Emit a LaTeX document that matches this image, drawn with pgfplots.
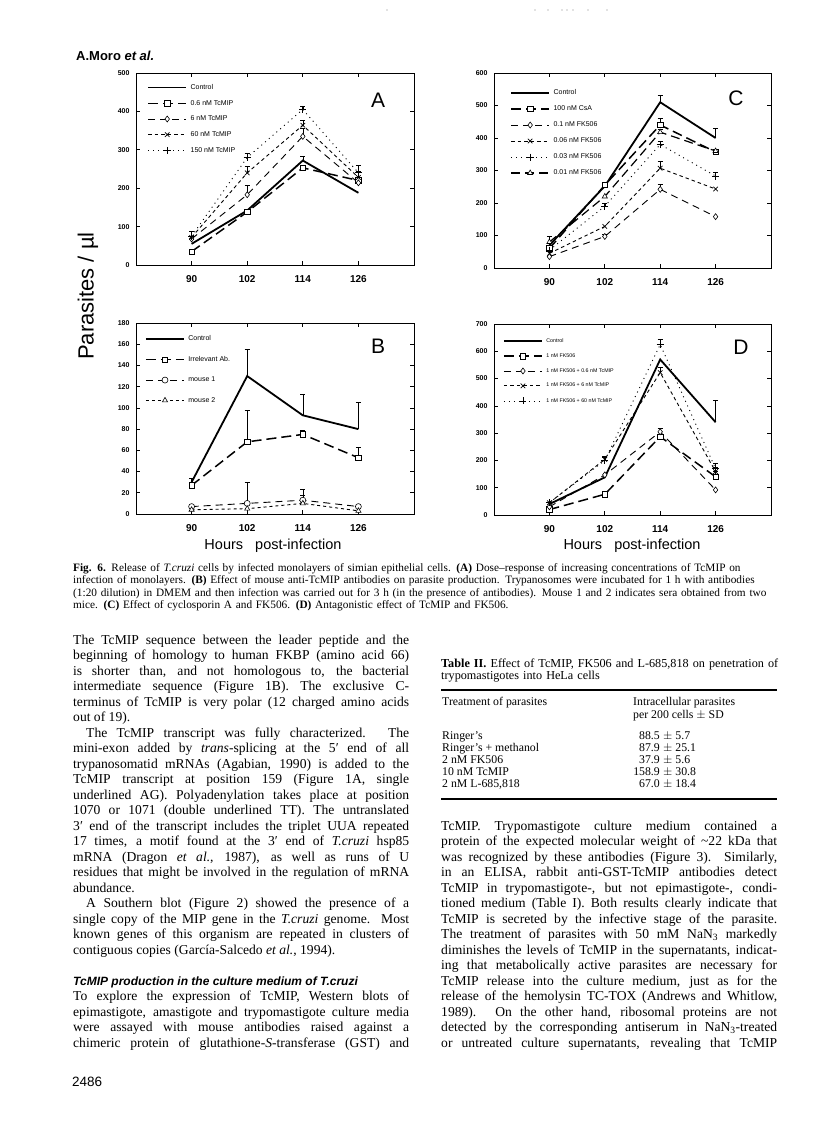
\documentclass[border=0pt]{standalone}
\usepackage{fontspec}
\setmainfont{Liberation Serif}
\setsansfont{Liberation Sans}
\usepackage{pgfplots}
\pgfplotsset{compat=1.18}
\pgfplotsset{
  panel/.style={
    scale only axis, xmin=78, xmax=138, ymin=0,
    xtick={90,102,114,126},
    tick align=inside, major tick length=4pt,
    axis line style={line width=0.8pt},
    every tick/.style={line width=0.7pt, black},
    xticklabel style={font=\fontsize{10}{12}\selectfont\sffamily\bfseries, yshift=-7pt},
    yticklabel style={font=\fontsize{7}{8}\selectfont\sffamily\bfseries, xshift=-3pt},
    /pgf/number format/assume math mode=true,
    legend cell align=left,
    legend image code/.code={\draw[mark repeat=2,mark phase=2,##1] plot coordinates {(0pt,0pt) (19pt,0pt) (38pt,0pt)};},
    legend style={draw=none, fill=none, inner sep=0pt, anchor=north west, column sep=3pt,
      nodes={inner sep=0.5pt}},
  },
  ctrl/.style={black, line width=1.8pt, no markers},
  sq/.style={black, line width=1.5pt, dash pattern=on 10pt off 5pt, mark=square*, mark size=2.7pt, mark options={solid, fill=white, line width=0.7pt}},
  dia/.style={black, line width=0.9pt, dash pattern=on 7pt off 5pt, mark=diamond*, mark size=3pt, mark options={solid, fill=white, line width=0.6pt}},
  crs/.style={black, line width=0.9pt, dash pattern=on 3.5pt off 3pt, mark=x, mark size=3.2pt, mark options={solid, line width=0.7pt}},
  pls/.style={black, line width=0.9pt, dash pattern=on 1pt off 4pt, mark=+, mark size=3.5pt, mark options={solid, line width=0.7pt}},
  tri/.style={black, line width=1.2pt, dash pattern=on 9pt off 5pt, mark=triangle*, mark size=3pt, mark options={solid, fill=white, line width=0.6pt}},
  trid/.style={black, line width=0.9pt, dash pattern=on 3pt off 3pt, mark=triangle*, mark size=3pt, mark options={solid, fill=white, line width=0.6pt}},
  circ/.style={black, line width=0.9pt, dash pattern=on 7pt off 5pt, mark=*, mark size=3pt, mark options={solid, fill=white, line width=0.6pt}},
  errs/.style={forget plot, draw=none, no markers,
    error bars/.cd, y dir=plus, y explicit,
    error bar style={draw=black, solid, line width=0.6pt},
    error mark options={draw=black, solid, rotate=90, mark size=2.5pt, line width=0.6pt}},
}
\begin{document}
\begin{tikzpicture}[x=1pt,y=1pt]
\path[use as bounding box] (0,0) rectangle (816,-1121);

% scan dots
\foreach \xx in {387,535,548,562,567,573,588,607}{\fill[gray] (\xx,-10) circle (0.6);}

% header
\node[anchor=base west, inner sep=0, font=\fontsize{13}{13}\selectfont\sffamily\bfseries] at (76,-61) {A.Moro \textit{et al.}};

% ---------------- Panel A ----------------
\begin{axis}[panel, at={(136pt,-265pt)}, anchor=south west, width=278pt, height=192pt,
  ymax=500, ytick={0,100,...,500},
  legend style={at={(0.04,0.945)}, font=\fontsize{7}{8}\selectfont\sffamily, row sep=8.3pt}]
\addplot[ctrl] table[x=x,y=y]{
x y
90 55
102 142
114 272
126 188
};
\addlegendentry{Control}
\addplot[sq] table[x=x,y=y]{
x y
90 35
102 138
114 253
126 220
};
\addlegendentry{0.6 nM TcMIP}
\addplot[dia] table[x=x,y=y]{
x y
90 68
102 183
114 335
126 214
};
\addlegendentry{6 nM TcMIP}
\addplot[crs] table[x=x,y=y]{
x y
90 72
102 240
114 364
126 228
};
\addlegendentry{60 nM TcMIP}
\addplot[pls] table[x=x,y=y]{
x y
90 75
102 280
114 405
126 240
};
\addlegendentry{150 nM TcMIP}
\addplot[errs] table[x=x,y=y,y error=e]{
x y e
114 272 11
102 183 25
114 335 20
90 72 15
102 240 18
114 364 12
126 228 15
90 75 12
102 280 10
114 405 8
126 240 20
};
\end{axis}
\node[font=\fontsize{21}{21}\selectfont\sffamily] at (378,-100) {A};

% ---------------- Panel B ----------------
\begin{axis}[panel, at={(136pt,-514pt)}, anchor=south west, width=278pt, height=191pt,
  ymax=180, ytick={0,20,...,180},
  legend style={at={(0.032,0.937)}, font=\fontsize{7}{8}\selectfont\sffamily, row sep=13pt}]
\addplot[ctrl] table[x=x,y=y]{
x y
90 30
102 130
114 93
126 80
};
\addlegendentry{Control}
\addplot[sq] table[x=x,y=y]{
x y
90 27
102 68
114 75
126 53
};
\addlegendentry{Irrelevant Ab.}
\addplot[circ] table[x=x,y=y]{
x y
90 7
102 10
114 13
126 7
};
\addlegendentry{mouse 1}
\addplot[trid] table[x=x,y=y]{
x y
90 4
102 5
114 10
126 3
};
\addlegendentry{mouse 2}
\addplot[errs] table[x=x,y=y,y error=e]{
x y e
90 30 4
102 130 25
114 93 20
126 80 25
102 68 30
114 75 4
126 53 10
102 10 20
114 13 10
114 10 8
};
\end{axis}
\node[font=\fontsize{21}{21}\selectfont\sffamily] at (378,-346) {B};

% ---------------- Panel C ----------------
\begin{axis}[panel, at={(494pt,-268pt)}, anchor=south west, width=277pt, height=195pt,
  ymax=600, ytick={0,100,...,600},
  legend style={at={(0.058,0.918)}, font=\fontsize{7}{8}\selectfont\sffamily, row sep=8.6pt}]
\addplot[ctrl] table[x=x,y=y]{
x y
90 70
102 252
114 510
126 400
};
\addlegendentry{Control}
\addplot[sq] table[x=x,y=y]{
x y
90 60
102 255
114 440
126 357
};
\addlegendentry{100 nM CsA}
\addplot[dia] table[x=x,y=y]{
x y
90 35
102 97
114 242
126 158
};
\addlegendentry{0.1 nM FK506}
\addplot[crs] table[x=x,y=y]{
x y
90 45
102 128
114 307
126 243
};
\addlegendentry{0.06 nM FK506}
\addplot[pls] table[x=x,y=y]{
x y
90 55
102 190
114 380
126 283
};
\addlegendentry{0.03 nM FK506}
\addplot[tri] table[x=x,y=y]{
x y
90 80
102 220
114 418
126 360
};
\addlegendentry{0.01 nM FK506}
\addplot[errs] table[x=x,y=y,y error=e]{
x y e
114 510 20
126 400 30
90 60 10
114 440 22
126 357 8
102 97 8
114 242 15
114 307 22
102 190 8
114 380 10
126 283 10
90 80 18
114 418 10
};
\end{axis}
\node[font=\fontsize{21}{21}\selectfont\sffamily] at (736,-98) {C};

% ---------------- Panel D ----------------
\begin{axis}[panel, at={(494pt,-515pt)}, anchor=south west, width=277pt, height=191pt,
  ymax=700, ytick={0,100,...,700},
  legend style={at={(0.032,0.927)}, font=\fontsize{5.3}{6}\selectfont\sffamily, row sep=8.6pt}]
\addplot[ctrl] table[x=x,y=y]{
x y
90 40
102 138
114 570
126 340
};
\addlegendentry{Control}
\addplot[sq] table[x=x,y=y]{
x y
90 20
102 76
114 287
126 140
};
\addlegendentry{1 nM FK506}
\addplot[dia] table[x=x,y=y]{
x y
90 30
102 147
114 305
126 92
};
\addlegendentry{1 nM FK506 + 0.6 nM TcMIP}
\addplot[crs] table[x=x,y=y]{
x y
90 45
102 204
114 522
126 159
};
\addlegendentry{1 nM FK506 + 6 nM TcMIP}
\addplot[pls] table[x=x,y=y]{
x y
90 45
102 200
114 625
126 170
};
\addlegendentry{1 nM FK506 + 60 nM TcMIP}
\addplot[errs] table[x=x,y=y,y error=e]{
x y e
126 340 80
126 140 20
114 305 12
102 204 12
114 522 18
126 159 15
102 200 10
114 625 20
126 170 20
};
\end{axis}
\node[font=\fontsize{21}{21}\selectfont\sffamily] at (741,-347) {D};

% axis titles
\node[rotate=90, font=\fontsize{22}{22}\selectfont\sffamily] at (88,-296) {Parasites / µl};
\node[font=\fontsize{14.5}{15}\selectfont\sffamily] at (273,-546) {Hours\ \ \ post-infection};
\node[font=\fontsize{14.5}{15}\selectfont\sffamily] at (632,-546) {Hours\ \ \ post-infection};

% caption
\node[anchor=base west, inner sep=0, text width=710, align=left, font=\fontsize{11.3}{12.6}\selectfont] at (73,-571) {%
\textbf{Fig. 6.} Release of \textit{T.cruzi} cells by infected monolayers of simian epithelial cells. \textbf{(A)} Dose–response of increasing concentrations of TcMIP on\\
infection of monolayers. \textbf{(B)} Effect of mouse anti-TcMIP antibodies on parasite production. Trypanosomes were incubated for 1 h with antibodies\\
(1:20 dilution) in DMEM and then infection was carried out for 3 h (in the presence of antibodies). Mouse 1 and 2 indicates sera obtained from two\\
mice. \textbf{(C)} Effect of cyclosporin A and FK506. \textbf{(D)} Antagonistic effect of TcMIP and FK506.};

% left column
\node[anchor=base west, inner sep=0, text width=336, align=justify, font=\fontsize{13.6}{15.5}\selectfont] at (73,-644) {%
\tolerance=9999 \hyphenpenalty=10000 \emergencystretch=0pt
The TcMIP sequence between the leader peptide and the\linebreak
beginning of homology to human FKBP (amino acid 66)\linebreak
is shorter than, and not homologous to, the bacterial\linebreak
intermediate sequence (Figure 1B). The exclusive C-\linebreak
terminus of TcMIP is very polar (12 charged amino acids\linebreak
out of 19).\par
\hspace*{13pt}The TcMIP transcript was fully characterized. The\linebreak
mini-exon added by \textit{trans}-splicing at the 5′ end of all\linebreak
trypanosomatid mRNAs (Agabian, 1990) is added to the\linebreak
TcMIP transcript at position 159 (Figure 1A, single\linebreak
underlined AG). Polyadenylation takes place at position\linebreak
1070 or 1071 (double underlined TT). The untranslated\linebreak
3′ end of the transcript includes the triplet UUA repeated\linebreak
17 times, a motif found at the 3′ end of \textit{T.cruzi} hsp85\linebreak
mRNA (Dragon \textit{et al.}, 1987), as well as runs of U\linebreak
residues that might be involved in the regulation of mRNA\linebreak
abundance.\par
\hspace*{13pt}A Southern blot (Figure 2) showed the presence of a\linebreak
single copy of the MIP gene in the \textit{T.cruzi} genome. Most\linebreak
known genes of this organism are repeated in clusters of\linebreak
contiguous copies (García-Salcedo \textit{et al.}, 1994).\par
\vspace{15.5pt}
{\fontsize{12}{15.5}\selectfont\sffamily\bfseries\itshape TcMIP production in the culture medium of T.cruzi\par}
To explore the expression of TcMIP, Western blots of\linebreak
epimastigote, amastigote and trypomastigote culture media\linebreak
were assayed with mouse antibodies raised against a\linebreak
chimeric protein of glutathione-\textit{S}-transferase (GST) and\parfillskip=0pt\par};

% page number
\node[anchor=base west, inner sep=0, font=\fontsize{13.5}{14}\selectfont\sffamily] at (72,-1086) {2486};

% Table II
\node[anchor=base west, inner sep=0, text width=340, align=left, font=\fontsize{12.2}{12.2}\selectfont] at (441,-667) {%
\textbf{Table II.} Effect of TcMIP, FK506 and L-685,818 on penetration of\\
trypomastigotes into HeLa cells};
\draw[line width=1.2pt] (441,-690) -- (777,-690);
\begin{scope}[every node/.style={anchor=base west, inner sep=0, font=\fontsize{11.8}{12}\selectfont}]
\node at (442,-705) {Treatment of parasites};
\node at (633,-705) {Intracellular parasites};
\node at (633,-718) {per 200 cells $\pm$ SD};
\node at (442,-739) {Ringer’s};
\node at (442,-751) {Ringer’s + methanol};
\node at (442,-763) {2 nM FK506};
\node at (442,-775) {10 nM TcMIP};
\node at (442,-787) {2 nM L-685,818};
\node[anchor=base east] at (660,-739) {88.5};
\node[anchor=base east] at (660,-751) {87.9};
\node[anchor=base east] at (660,-763) {37.9};
\node[anchor=base east] at (660,-775) {158.9};
\node[anchor=base east] at (660,-787) {67.0};
\node at (660,-739) {\ $\pm$ 5.7};
\node at (660,-751) {\ $\pm$ 25.1};
\node at (660,-763) {\ $\pm$ 5.6};
\node at (660,-775) {\ $\pm$ 30.8};
\node at (660,-787) {\ $\pm$ 18.4};
\end{scope}
\draw[line width=1.2pt] (441,-799) -- (777,-799);

% right column
\node[anchor=base west, inner sep=0, text width=336, align=justify, font=\fontsize{13.6}{15.5}\selectfont] at (441,-830) {%
\tolerance=9999 \hyphenpenalty=10000 \emergencystretch=0pt
TcMIP. Trypomastigote culture medium contained a\linebreak
protein of the expected molecular weight of \textasciitilde22 kDa that\linebreak
was recognized by these antibodies (Figure 3). Similarly,\linebreak
in an ELISA, rabbit anti-GST-TcMIP antibodies detect\linebreak
TcMIP in trypomastigote-, but not epimastigote-, condi-\linebreak
tioned medium (Table I). Both results clearly indicate that\linebreak
TcMIP is secreted by the infective stage of the parasite.\linebreak
The treatment of parasites with 50 mM NaN\textsubscript{3} markedly\linebreak
diminishes the levels of TcMIP in the supernatants, indicat-\linebreak
ing that metabolically active parasites are necessary for\linebreak
TcMIP release into the culture medium, just as for the\linebreak
release of the hemolysin TC-TOX (Andrews and Whitlow,\linebreak
1989). On the other hand, ribosomal proteins are not\linebreak
detected by the corresponding antiserum in NaN\textsubscript{3}-treated\linebreak
or untreated culture supernatants, revealing that TcMIP\parfillskip=0pt\par};

\end{tikzpicture}
\end{document}
